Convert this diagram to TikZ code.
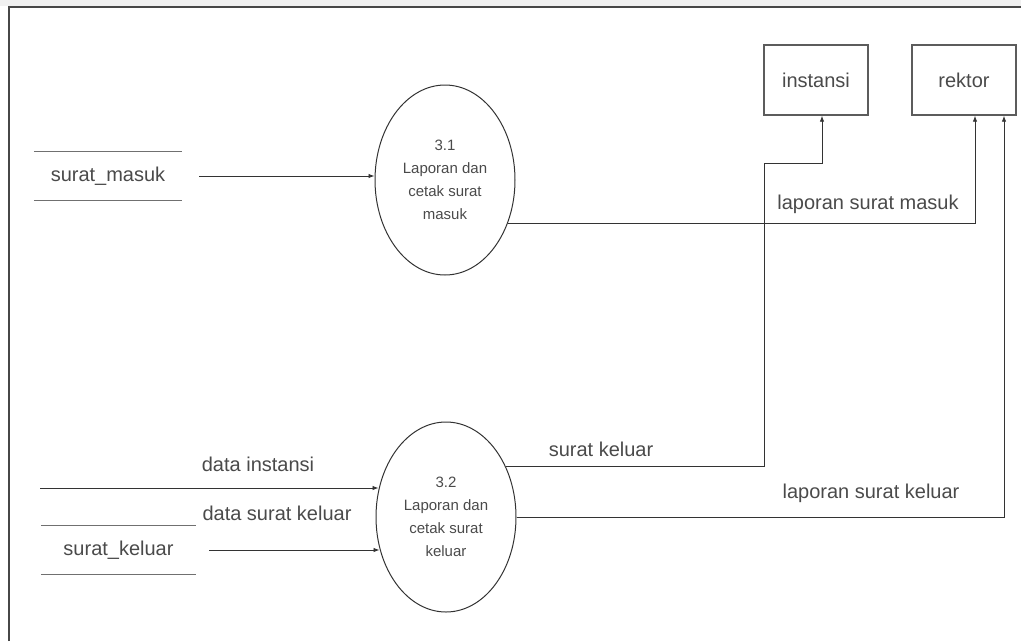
\documentclass[tikz,border=0pt]{standalone}
\usepackage{fontspec}
\setmainfont{Liberation Sans}
\usetikzlibrary{arrows.meta,shapes.geometric}
\definecolor{ink}{HTML}{333333}
\definecolor{txt}{HTML}{4A4A4A}
\tikzset{
	flow/.style={draw=ink, line width=0.9pt, -{Latex[length=6pt,width=4.5pt]}},
	line/.style={draw=ink, line width=0.9pt},
	proc/.style={ellipse, draw=ink, line width=1pt, minimum width=140pt, minimum height=190pt, align=center, text=txt, font=\fontsize{15}{23}\selectfont},
	ent/.style={rectangle, draw=ink!80, line width=1.4pt, minimum width=104pt, minimum height=70pt, text=txt, font=\fontsize{20}{24}\selectfont},
	store/.style={minimum height=48pt, text=txt, font=\fontsize{20}{24}\selectfont},
	lbl/.style={text=txt, font=\fontsize{20}{24}\selectfont, inner sep=0pt}
}
\begin{document}
\begin{tikzpicture}[x=1pt, y=-1pt]
			\useasboundingbox (0,0) rectangle (1021,641);
			%frame
			\fill[gray!12] (0,0) rectangle (1021,6);
			\draw[ink!90, line width=1.4pt] (9,641) -- (9,7) -- (1021,7);
			
			%processes and entities
			\node (p31) at (445,180) [proc]{3.1\\Laporan dan\\cetak surat\\masuk};
			\node (p32) at (446,517) [proc]{3.2\\Laporan dan\\cetak surat\\keluar};
			\node (inst) at (816,80) [ent]{instansi};
			\node (rek) at (964,80) [ent]{rektor};
			
			%data stores
			\node (sm) at (108,176) [store, minimum width=148pt]{surat\_masuk};
			\node (sk) at (118.5,550) [store, minimum width=155pt]{surat\_keluar};
			\foreach \s in {sm, sk}{
				\draw[ink!70, line width=1.2pt] (\s.north west) -- (\s.north east);
				\draw[ink!70, line width=1.2pt] (\s.south west) -- (\s.south east);
			}
			
			%flows
			\coordinate (din) at (40,488);
			\coordinate (bend) at (764,163);
			\draw[flow] ([xshift=17pt]sm.east) -- (sm.east -| p31.west);
			\draw[flow] (din) -- ([xshift=3pt]din -| p32.west);
			\draw[flow] ([xshift=13pt]sk.east) -- ([xshift=4pt]sk.east -| p32.west);
			\draw[flow] (p31.-35) -| ([xshift=11pt]rek.south);
			\draw[flow] (p32.east) -| ([xshift=40pt]rek.south);
			\draw[line] (p32.40) -| (bend);
			\draw[flow] (bend) -| ([xshift=6pt]inst.south);
			
			%labels
			\node (l1) at (868,204) [lbl]{laporan surat masuk};
			\node (l2) at (601,449) [lbl]{surat keluar};
			\node (l3) at (871,493) [lbl]{laporan surat keluar};
			\node (l4) at (258,464) [lbl]{data instansi};
			\node (l5) at (277,513) [lbl]{data surat keluar};
		\end{tikzpicture}
\end{document}
